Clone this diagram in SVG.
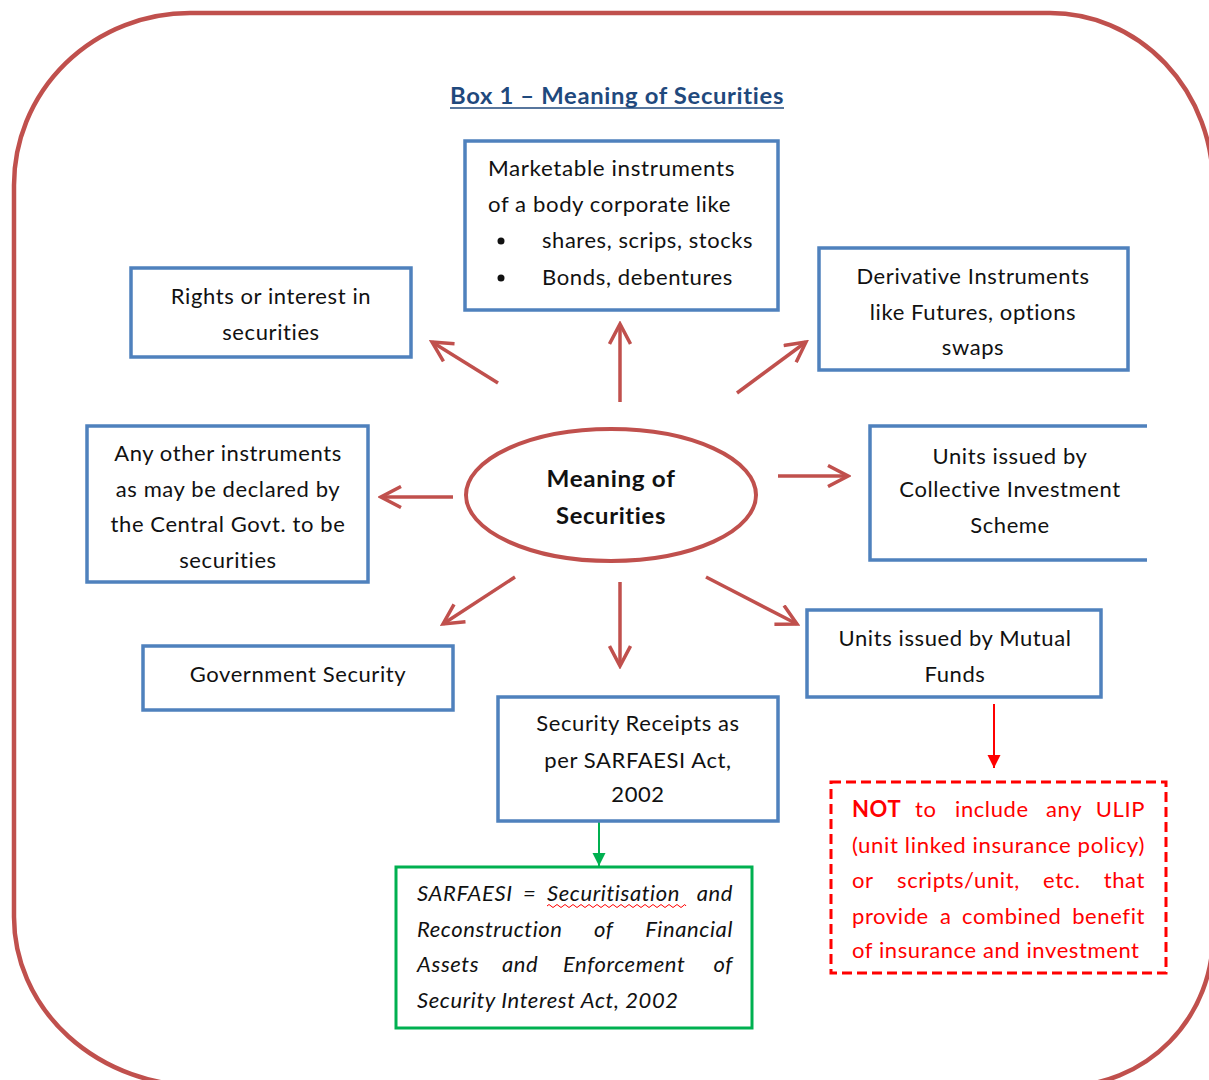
<svg xmlns="http://www.w3.org/2000/svg" width="1209" height="1080" viewBox="0 0 1209 1080">
<defs>
<style>
.box{fill:#fff;stroke:#4F81BD;stroke-width:3.5}
.t{font-family:Lato,"Liberation Sans",sans-serif;font-size:22px;fill:#111;letter-spacing:0.6px}
.c{text-anchor:middle}
.b{font-weight:bold}
.i{font-style:italic}
.r{fill:#FF0000}
.e{text-anchor:end}
.conn{stroke:#C0504D;stroke-width:3.5;fill:none;marker-end:url(#open)}
</style>
<marker id="open" viewBox="0 0 24 24" refX="21" refY="12" markerWidth="24" markerHeight="24" markerUnits="userSpaceOnUse" orient="auto">
<path d="M1,1.5 L21,12 L1,22.5" fill="none" stroke="#C0504D" stroke-width="3.5" stroke-linejoin="miter"/>
</marker>
<marker id="triG" viewBox="0 0 14 14" refX="13" refY="7" markerWidth="14" markerHeight="14" markerUnits="userSpaceOnUse" orient="auto">
<path d="M0,0.5 L13,7 L0,13.5 Z" fill="#00B050"/>
</marker>
<marker id="triR" viewBox="0 0 14 14" refX="13" refY="7" markerWidth="14" markerHeight="14" markerUnits="userSpaceOnUse" orient="auto">
<path d="M0,0.5 L13,7 L0,13.5 Z" fill="#FF0000"/>
</marker>
</defs>
<rect width="1209" height="1080" fill="#fff"/>
<g id="frame">
<path d="M190,13 L1050,13 A163,172 0 0 1 1213,185 L1213,935 A148,151 0 0 1 1065,1086 L200,1086 A186,169 0 0 1 14,917 L14,185 A176,172 0 0 1 190,13 Z" fill="none" stroke="#C0504D" stroke-width="4.5"/>
</g>
<g id="title">
<text class="t b c" x="617" y="104" style="fill:#1F497D" textLength="334" lengthAdjust="spacingAndGlyphs">Box 1 – Meaning of Securities</text>
<line x1="450" y1="108" x2="784" y2="108" stroke="#1F497D" stroke-width="1.5"/>
</g>
<g id="connectors">
<line class="conn" x1="620" y1="402" x2="620" y2="324"/>
<line class="conn" x1="498" y1="383" x2="432" y2="342"/>
<line class="conn" x1="737" y1="393" x2="806" y2="342"/>
<line class="conn" x1="453" y1="497" x2="381" y2="497"/>
<line class="conn" x1="778" y1="476" x2="848" y2="476"/>
<line class="conn" x1="515" y1="577" x2="443" y2="624"/>
<line class="conn" x1="620" y1="582" x2="620" y2="666"/>
<line class="conn" x1="706" y1="577" x2="797" y2="624"/>
<line x1="599" y1="822" x2="599" y2="866" stroke="#00B050" stroke-width="2" marker-end="url(#triG)"/>
<line x1="994" y1="704" x2="994" y2="768" stroke="#FF0000" stroke-width="2" marker-end="url(#triR)"/>
</g>
<g id="center">
<ellipse cx="611" cy="495" rx="145" ry="66" fill="#fff" stroke="#C0504D" stroke-width="4"/>
<text class="t b c" x="611" y="487" textLength="129" lengthAdjust="spacingAndGlyphs">Meaning of</text>
<text class="t b c" x="611" y="524" textLength="110" lengthAdjust="spacingAndGlyphs">Securities</text>
</g>
<g id="marketable">
<rect class="box" x="465" y="141" width="313" height="169"/>
<text class="t" x="488" y="176" textLength="247" lengthAdjust="spacingAndGlyphs">Marketable instruments</text>
<text class="t" x="488" y="212" textLength="243" lengthAdjust="spacingAndGlyphs">of a body corporate like</text>
<circle cx="501" cy="241" r="3.5" fill="#111"/>
<text class="t" x="542" y="248" textLength="211" lengthAdjust="spacingAndGlyphs">shares, scrips, stocks</text>
<circle cx="501" cy="278" r="3.5" fill="#111"/>
<text class="t" x="542" y="285" textLength="191" lengthAdjust="spacingAndGlyphs">Bonds, debentures</text>
</g>
<g id="rights">
<rect class="box" x="131" y="268" width="280" height="89"/>
<text class="t c" x="271" y="304">Rights or interest in</text>
<text class="t c" x="271" y="340">securities</text>
</g>
<g id="derivative">
<rect class="box" x="819" y="248" width="309" height="122"/>
<text class="t c" x="973" y="284">Derivative Instruments</text>
<text class="t c" x="973" y="320">like Futures, options</text>
<text class="t c" x="973" y="355">swaps</text>
</g>
<g id="other">
<rect class="box" x="87" y="426" width="281" height="156"/>
<text class="t c" x="228" y="461">Any other instruments</text>
<text class="t c" x="228" y="497">as may be declared by</text>
<text class="t c" x="228" y="532">the Central Govt. to be</text>
<text class="t c" x="228" y="568">securities</text>
</g>
<g id="cis">
<path d="M1147,426 L870,426 L870,560 L1147,560" fill="#fff" stroke="#4F81BD" stroke-width="3.5"/>
<text class="t c" x="1010" y="464">Units issued by</text>
<text class="t c" x="1010" y="497">Collective Investment</text>
<text class="t c" x="1010" y="533">Scheme</text>
</g>
<g id="govt">
<rect class="box" x="143" y="646" width="310" height="64"/>
<text class="t c" x="298" y="682">Government Security</text>
</g>
<g id="mutual">
<rect class="box" x="807" y="610" width="294" height="87"/>
<text class="t c" x="955" y="646">Units issued by Mutual</text>
<text class="t c" x="955" y="682">Funds</text>
</g>
<g id="receipts">
<rect class="box" x="498" y="697" width="280" height="124"/>
<text class="t c" x="638" y="731">Security Receipts as</text>
<text class="t c" x="638" y="768">per SARFAESI Act,</text>
<text class="t c" x="638" y="802">2002</text>
</g>
<g id="sarfaesi">
<rect x="396" y="867" width="356" height="161" fill="#fff" stroke="#00B050" stroke-width="3"/>
<text class="t i" x="417" y="901">SARFAESI</text>
<text class="t i" x="523" y="901">=</text>
<text class="t i" x="547" y="901">Securitisation</text>
<text class="t i e" x="733" y="901">and</text>
<path d="M547,906 q2,-3 4,0 t4,0 t4,0 t4,0 t4,0 t4,0 t4,0 t4,0 t4,0 t4,0 t4,0 t4,0 t4,0 t4,0 t4,0 t4,0 t4,0 t4,0 t4,0 t4,0 t4,0 t4,0 t4,0 t4,0 t4,0 t4,0 t4,0 t4,0 t4,0 t4,0 t4,0 t4,0 t4,0 t4,0 t3,0" fill="none" stroke="#FF0000" stroke-width="1"/>
<text class="t i" x="417" y="937">Reconstruction</text>
<text class="t i" x="594" y="937">of</text>
<text class="t i e" x="733" y="937">Financial</text>
<text class="t i" x="417" y="972">Assets</text>
<text class="t i" x="502" y="972">and</text>
<text class="t i" x="563" y="972">Enforcement</text>
<text class="t i e" x="733" y="972">of</text>
<text class="t i" x="417" y="1008">Security Interest Act, 2002</text>
</g>
<g id="notulip">
<rect x="831" y="782" width="335" height="191" fill="#fff" stroke="#FF0000" stroke-width="3" stroke-dasharray="10,5"/>
<text class="t r b" x="852" y="817">NOT</text>
<text class="t r" x="915" y="817">to</text>
<text class="t r" x="955" y="817">include</text>
<text class="t r" x="1046" y="817">any</text>
<text class="t r e" x="1145" y="817">ULIP</text>
<text class="t r" x="852" y="853" textLength="293" lengthAdjust="spacingAndGlyphs">(unit linked insurance policy)</text>
<text class="t r" x="852" y="888">or</text>
<text class="t r" x="897" y="888">scripts/unit,</text>
<text class="t r" x="1043" y="888">etc.</text>
<text class="t r e" x="1145" y="888">that</text>
<text class="t r" x="852" y="924">provide</text>
<text class="t r" x="940" y="924">a</text>
<text class="t r" x="962" y="924">combined</text>
<text class="t r e" x="1145" y="924">benefit</text>
<text class="t r" x="852" y="958">of insurance and investment</text>
</g>
</svg>
